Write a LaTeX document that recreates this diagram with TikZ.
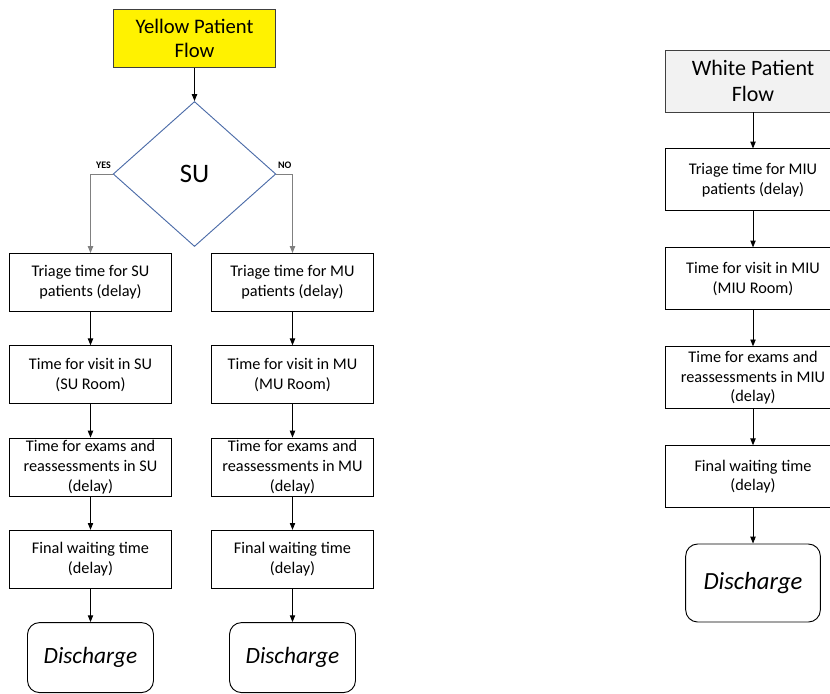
\documentclass[tikz,border=0pt]{standalone}
\usepackage{fontspec}
\setmainfont{Carlito}
\usetikzlibrary{arrows.meta, positioning, shapes.geometric}
\definecolor{diamondblue}{RGB}{76,108,168}
\definecolor{titlegray}{RGB}{242,242,242}

\begin{document}
\begin{tikzpicture}[
  x=0.75pt, y=-0.75pt,
  node distance=25pt,
  box/.style={draw, line width=0.7pt, minimum width=122pt, minimum height=43.5pt, inner xsep=1pt, inner ysep=1pt, align=center, font=\fontsize{12.2}{14.8}\selectfont},
  wbox/.style={box, minimum width=132pt, minimum height=46.5pt},
  endbox/.style={draw, line width=0.7pt, rounded corners=9pt, minimum width=94.5pt, minimum height=52.5pt, font=\fontsize{17.5}{20}\selectfont\itshape},
  wendbox/.style={endbox, minimum width=101pt, minimum height=58.5pt, font=\fontsize{18.5}{22}\selectfont\itshape},
  ytitle/.style={draw=black!75, line width=0.7pt, fill=yellow, minimum width=122pt, minimum height=44pt, align=center, font=\fontsize{15.5}{18}\selectfont},
  wtitle/.style={draw=black!75, line width=0.7pt, fill=titlegray, minimum width=132pt, minimum height=46.5pt, align=center, font=\fontsize{16.5}{20}\selectfont},
  decision/.style={diamond, draw=diamondblue, line width=0.7pt, aspect=1.124, minimum width=122pt, minimum height=108.75pt, inner sep=0pt, font=\fontsize{20}{24}\selectfont},
  answer/.style={inner sep=1pt, yshift=3pt, font=\bfseries\fontsize{7.5}{8}\selectfont},
  arrow/.style={-{Triangle[length=1.8mm, width=1.4mm]}, line width=0.7pt},
  branch/.style={arrow, draw=black!50}
]

\useasboundingbox (0,0) rectangle (830,693);
\clip (0,0) rectangle (830,693);

\node[ytitle] (ytitle) at (194.5,38.5) {Yellow Patient\\Flow};
\node[decision] (su) at (194.5,174) {SU};

\node[box] (su1) at (90.5,282.5) {Triage time for SU\\patients (delay)};
\node[box, below=of su1] (su2) {Time for visit in SU\\(SU Room)};
\node[box, below=of su2] (su3) {Time for exams and\\reassessments in SU\\(delay)};
\node[box, below=of su3] (su4) {Final waiting time\\(delay)};
\node[endbox, below=of su4] (su5) {Discharge};

\node[box] (mu1) at (292.5,282.5) {Triage time for MU\\patients (delay)};
\node[box, below=of mu1] (mu2) {Time for visit in MU\\(MU Room)};
\node[box, below=of mu2] (mu3) {Time for exams and\\reassessments in MU\\(delay)};
\node[box, below=of mu3] (mu4) {Final waiting time\\(delay)};
\node[endbox, below=of mu4] (mu5) {Discharge};

\node[wtitle] (wtitle) at (753,81) {White Patient\\Flow};
\node[wbox, below=27pt of wtitle] (miu1) {Triage time for MIU\\patients (delay)};
\node[wbox, below=27pt of miu1] (miu2) {Time for visit in MIU\\(MIU Room)};
\node[wbox, below=27pt of miu2] (miu3) {Time for exams and\\reassessments in MIU\\(delay)};
\node[wbox, below=27pt of miu3] (miu4) {Final waiting time\\(delay)};
\node[wendbox, below=26.5pt of miu4] (miu5) {Discharge};

\draw[arrow] (ytitle) -- (su);
\draw[branch] (su.west) -| node[at start, above left, answer] {YES} (su1);
\draw[branch] (su.east) -| node[at start, above right, answer] {NO} (mu1);

\foreach \col in {su, mu, miu} {
  \draw[arrow] (\col1) -- (\col2);
  \draw[arrow] (\col2) -- (\col3);
  \draw[arrow] (\col3) -- (\col4);
  \draw[arrow] (\col4) -- (\col5);
}
\draw[arrow] (wtitle) -- (miu1);

\end{tikzpicture}
\end{document}
